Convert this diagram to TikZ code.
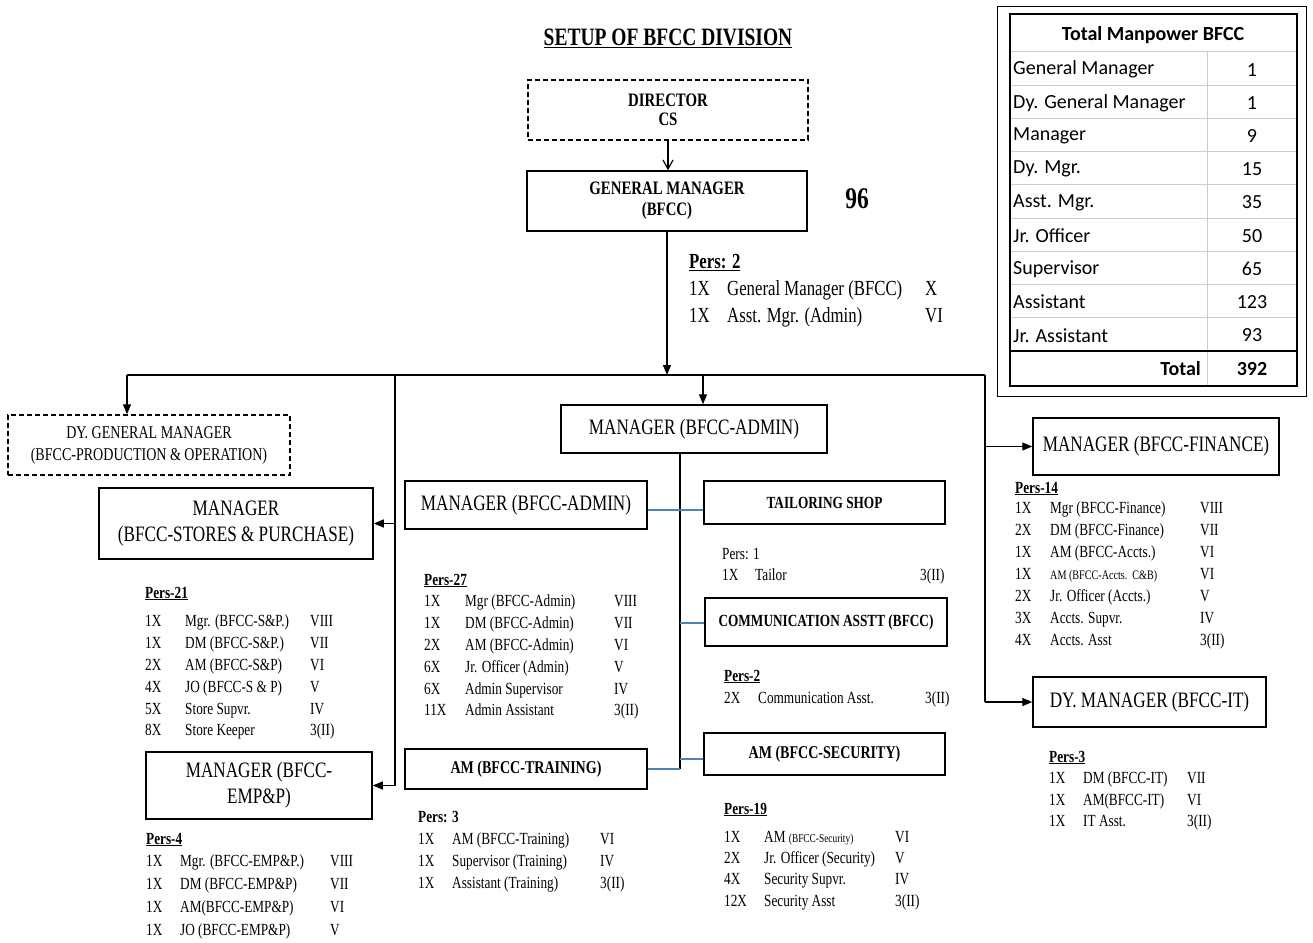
\documentclass[tikz,border=0pt]{standalone}
\usepackage{fontspec}
\setmainfont{Liberation Serif}[FakeStretch=0.78]
\newfontfamily\tabfont{Carlito}
\usepackage{xcolor}
\usetikzlibrary{arrows.meta, positioning, calc}
\definecolor{linkblue}{RGB}{79,129,189}
\definecolor{gridgrey}{RGB}{205,205,205}
\newcommand{\fs}[2]{\fontsize{#1}{#2}\selectfont}
\setlength{\tabcolsep}{0pt}

\begin{document}
\begin{tikzpicture}[x=1pt, y=-1pt,
    box/.style={draw, line width=1.5pt, inner sep=2pt, align=center},
    dbox/.style={box, dash pattern=on 5pt off 3pt},
    arr/.style={line width=1.3pt, -{Triangle[length=10pt,width=8pt]}},
    barb/.style={line width=1.2pt, -{Straight Barb[length=9pt,width=10pt]}},
    link/.style={line width=1.3pt},
    blink/.style={line width=1.4pt, draw=linkblue},
    perslist/.style={anchor=base west, inner sep=0pt}]
    \useasboundingbox (0,0) rectangle (1313,942);

    % title
    \node[font=\fs{25}{28}\bfseries] (title) at (668,38) {\underline{SETUP OF BFCC DIVISION}};

    % director and general manager
    \node[dbox, minimum width=280pt, minimum height=60pt, font=\fs{19}{19}\bfseries] (dir) at (668,110) {DIRECTOR\\CS};
    \node[box, minimum width=280pt, minimum height=60pt, font=\fs{19}{21}\bfseries] (gm) at (667,201) {GENERAL MANAGER\\(BFCC)};
    \node[font=\fs{30}{30}\bfseries] (strength) at (857,199) {96};
    \draw[barb] (dir.south) -- (dir.south |- gm.north);

    \node[perslist, font=\fs{21.5}{27}] (pers2) at (689,268) {\begin{tabular}[t]{@{}p{38pt}p{198pt}l@{}}
        \multicolumn{3}{@{}l}{\bfseries\underline{Pers: 2}}\\
        1X & General Manager (BFCC) & X\\
        1X & Asst. Mgr. (Admin) & VI
    \end{tabular}};

    % main branch line
    \coordinate (busL) at (127,375);
    \coordinate (busR) at (985,375);
    \coordinate (jleft) at (395,375);
    \coordinate (jadmin) at (703,375);
    \draw[arr] (gm.south) -- (gm.south |- busL);
    \draw[link] (busL) -- (busR);

    % left side
    \node[dbox, minimum width=282pt, minimum height=60pt, font=\fs{18}{22}] (dgm) at (149,445) {DY. GENERAL MANAGER\\(BFCC-PRODUCTION \& OPERATION)};
    \node[box, minimum width=274pt, minimum height=71pt, font=\fs{22}{26}] (mstore) at (236,523.5) {MANAGER\\(BFCC-STORES \& PURCHASE)};
    \node[box, minimum width=226pt, minimum height=67pt, font=\fs{22}{26}] (memp) at (259,785.5) {MANAGER (BFCC-\\EMP\&P)};
    \draw[arr] (busL) -- (busL |- dgm.north);
    \draw[link] (jleft) -- (jleft |- memp.east);
    \draw[arr] (jleft |- mstore.east) -- (mstore.east);
    \draw[arr] (jleft |- memp.east) -- (memp.east);

    \node[perslist, font=\fs{17}{21.8}] (pers21) at (145,598) {\begin{tabular}[t]{@{}p{40pt}p{125pt}l@{}}
        \multicolumn{3}{@{}l}{\bfseries\underline{Pers-21}}\\[7pt]
        1X & Mgr. (BFCC-S\&P.) & VIII\\
        1X & DM (BFCC-S\&P.) & VII\\
        2X & AM (BFCC-S\&P) & VI\\
        4X & JO (BFCC-S \& P) & V\\
        5X & Store Supvr. & IV\\
        8X & Store Keeper & 3(II)
    \end{tabular}};
    \node[perslist, font=\fs{17}{23}] (pers4) at (146,844) {\begin{tabular}[t]{@{}p{34pt}p{150pt}l@{}}
        \multicolumn{3}{@{}l}{\bfseries\underline{Pers-4}}\\[-1pt]
        1X & Mgr. (BFCC-EMP\&P.) & VIII\\
        1X & DM (BFCC-EMP\&P) & VII\\
        1X & AM(BFCC-EMP\&P) & VI\\
        1X & JO (BFCC-EMP\&P) & V
    \end{tabular}};

    % admin section
    \node[box, minimum width=266pt, minimum height=48pt, font=\fs{22}{26}] (madmin) at (694,429) {MANAGER (BFCC-ADMIN)};
    \node[box, minimum width=242pt, minimum height=48pt, font=\fs{22}{26}] (madmin2) at (526,505) {MANAGER (BFCC-ADMIN)};
    \node[box, minimum width=241pt, minimum height=43pt, font=\fs{17}{20}\bfseries] (tailor) at (824.5,502.5) {TAILORING SHOP};
    \node[box, minimum width=242pt, minimum height=48pt, font=\fs{17}{20}\bfseries] (comm) at (826,622) {COMMUNICATION ASSTT (BFCC)};
    \node[box, minimum width=241pt, minimum height=42pt, font=\fs{18}{20}\bfseries] (secu) at (824.5,754) {AM (BFCC-SECURITY)};
    \node[box, minimum width=242pt, minimum height=40pt, font=\fs{18}{20}\bfseries] (train) at (526,769) {AM (BFCC-TRAINING)};
    \draw[arr] (jadmin) -- (jadmin |- madmin.north);

    \coordinate (spine) at (680,769);
    \coordinate (btail) at (680,510);
    \coordinate (bcomm) at (680,623);
    \coordinate (bsecu) at (680,759);
    \draw[link] (spine |- madmin.south) -- (spine);
    \draw[blink] (btail -| madmin2.east) -- (btail -| tailor.west);
    \draw[blink] (bcomm) -- (bcomm -| comm.west);
    \draw[blink] (bsecu) -- (bsecu -| secu.west);
    \draw[blink] (spine -| train.east) -- (spine);

    \node[perslist, font=\fs{17}{21.8}] (pers27) at (424,585) {\begin{tabular}[t]{@{}p{41pt}p{149pt}l@{}}
        \multicolumn{3}{@{}l}{\bfseries\underline{Pers-27}}\\
        1X & Mgr (BFCC-Admin) & VIII\\
        1X & DM (BFCC-Admin) & VII\\
        2X & AM (BFCC-Admin) & VI\\
        6X & Jr. Officer (Admin) & V\\
        6X & Admin Supervisor & IV\\
        11X & Admin Assistant & 3(II)
    \end{tabular}};
    \node[perslist, font=\fs{17}{22}] (pers3t) at (418,822) {\begin{tabular}[t]{@{}p{34pt}p{148pt}l@{}}
        \multicolumn{3}{@{}l}{\bfseries Pers: 3}\\
        1X & AM (BFCC-Training) & VI\\
        1X & Supervisor (Training) & IV\\
        1X & Assistant (Training) & 3(II)
    \end{tabular}};
    \node[perslist, font=\fs{17}{21}] (pers1) at (722,559) {\begin{tabular}[t]{@{}p{33pt}p{165pt}l@{}}
        \multicolumn{3}{@{}l}{Pers: 1}\\
        1X & Tailor & 3(II)
    \end{tabular}};
    \node[perslist, font=\fs{17}{22}] (pers2c) at (724,681) {\begin{tabular}[t]{@{}p{34pt}p{167pt}l@{}}
        \multicolumn{3}{@{}l}{\bfseries\underline{Pers-2}}\\
        2X & Communication Asst. & 3(II)
    \end{tabular}};
    \node[perslist, font=\fs{17}{21.3}] (pers19) at (724,814) {\begin{tabular}[t]{@{}p{40pt}p{131pt}l@{}}
        \multicolumn{3}{@{}l}{\bfseries\underline{Pers-19}}\\[7pt]
        1X & AM {\fs{12}{12}(BFCC-Security)} & VI\\
        2X & Jr. Officer (Security) & V\\
        4X & Security Supvr. & IV\\
        12X & Security Asst & 3(II)
    \end{tabular}};

    % right side
    \node[box, minimum width=246pt, minimum height=57pt, font=\fs{22}{26}] (fin) at (1156,446.5) {MANAGER (BFCC-FINANCE)};
    \node[box, minimum width=233pt, minimum height=50pt, font=\fs{22}{26}] (it) at (1149.5,702) {DY. MANAGER (BFCC-IT)};
    \draw[link] (busR) -- (busR |- it.west);
    \draw[arr] (busR |- fin.west) -- (fin.west);
    \draw[arr] (busR |- it.west) -- (it.west);

    \node[perslist, font=\fs{17}{22}] (pers14) at (1015,493) {\begin{tabular}[t]{@{}p{35pt}p{150pt}l@{}}
        \multicolumn{3}{@{}l}{\bfseries\underline{Pers-14}}\\[-2pt]
        1X & Mgr (BFCC-Finance) & VIII\\
        2X & DM (BFCC-Finance) & VII\\
        1X & AM (BFCC-Accts.) & VI\\
        1X & {\fs{13}{13}AM (BFCC-Accts.\ \ C\&B)} & VI\\
        2X & Jr. Officer (Accts.) & V\\
        3X & Accts. Supvr. & IV\\
        4X & Accts. Asst & 3(II)
    \end{tabular}};
    \node[perslist, font=\fs{17}{21.5}] (pers3i) at (1049,762) {\begin{tabular}[t]{@{}p{34pt}p{104pt}l@{}}
        \multicolumn{3}{@{}l}{\bfseries\underline{Pers-3}}\\
        1X & DM (BFCC-IT) & VII\\
        1X & AM(BFCC-IT) & VI\\
        1X & IT Asst. & 3(II)
    \end{tabular}};

    % manpower table
    \draw[line width=0.8pt] (997,6) rectangle (1306,396);
    \foreach \i in {1,...,8}
        \draw[gridgrey, line width=1pt] (1010,52+33.2*\i) -- (1297,52+33.2*\i);
    \draw[gridgrey, line width=1pt] (1010,52) -- (1297,52);
    \draw[gridgrey, line width=1pt] (1207,52) -- (1207,386);
    \draw[line width=1.6pt] (1010,351) -- (1297,351);
    \draw[line width=1.4pt] (1010,14) rectangle (1297,386);
    \node[font=\tabfont\fs{20}{20}\bfseries] (thead) at (1153,35) {Total Manpower BFCC};
    \foreach \lab/\val [count=\i] in {General Manager/1, Dy. General Manager/1, Manager/9, Dy. Mgr./15, Asst. Mgr./35, Jr. Officer/50, Supervisor/65, Assistant/123, Jr. Assistant/93} {
        \node[anchor=west, inner sep=0pt, font=\tabfont\fs{20}{20}] (lab\i) at (1013,52+33.2*\i-15.6) {\lab};
        \node[font=\tabfont\fs{20}{20}] (val\i) at (1252,52+33.2*\i-15.6) {\val};
    }
    \node[anchor=east, inner sep=0pt, font=\tabfont\fs{20}{20}\bfseries] (ttotal) at (1201,369) {Total};
    \node[font=\tabfont\fs{20}{20}\bfseries] (tsum) at (1252,369) {392};
\end{tikzpicture}
\end{document}
